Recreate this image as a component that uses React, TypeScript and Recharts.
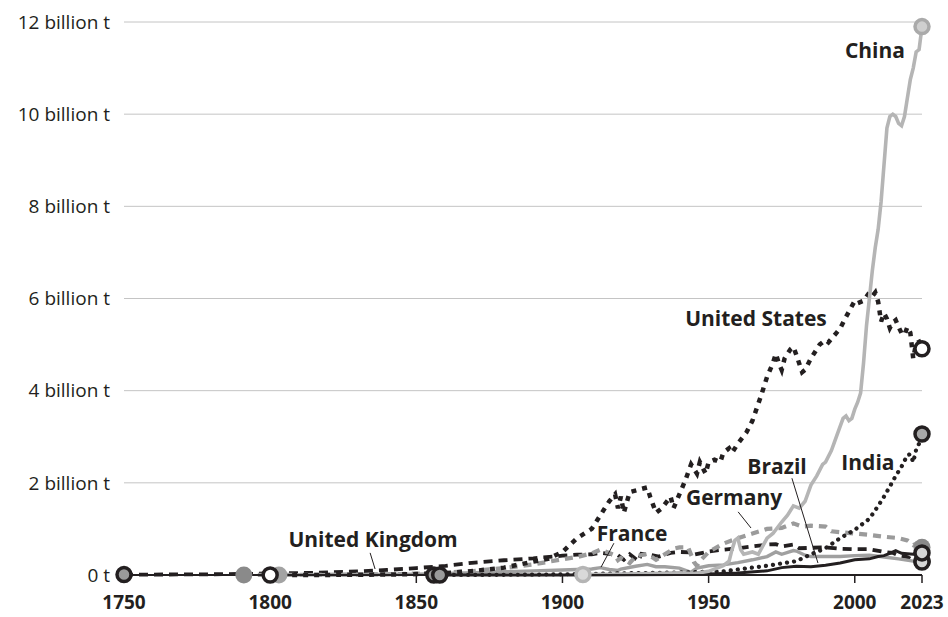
import { LineChart, Line, XAxis, YAxis, CartesianGrid, ReferenceDot, ReferenceLine } from 'recharts';

const INK = '#231f20';
const FONT = '"Open Sans", "Noto Sans", sans-serif';

type Pt = [number, number];

// annual CO2 emissions, billion tonnes
const ukPoints: Pt[] = [
  [1750, 0.009], [1760, 0.01], [1770, 0.012], [1780, 0.016], [1790, 0.022], [1800, 0.033], [1810, 0.042],
  [1820, 0.055], [1830, 0.08], [1840, 0.11], [1850, 0.15], [1860, 0.2], [1870, 0.27], [1880, 0.32],
  [1890, 0.36], [1900, 0.42], [1905, 0.44], [1910, 0.45], [1913, 0.48], [1916, 0.46], [1919, 0.43],
  [1921, 0.33], [1923, 0.45], [1926, 0.3], [1927, 0.46], [1930, 0.44], [1933, 0.4], [1937, 0.48],
  [1940, 0.5], [1944, 0.49], [1945, 0.44], [1950, 0.51], [1955, 0.55], [1960, 0.58], [1965, 0.62],
  [1970, 0.66], [1973, 0.67], [1975, 0.62], [1979, 0.66], [1981, 0.58], [1985, 0.59], [1990, 0.6],
  [1995, 0.57], [2000, 0.56], [2005, 0.56], [2010, 0.5], [2013, 0.48], [2015, 0.42], [2018, 0.39],
  [2020, 0.32], [2023, 0.3],
];

const usPoints: Pt[] = [
  [1800, 0.0002], [1820, 0.002], [1840, 0.01], [1850, 0.02], [1860, 0.04], [1870, 0.09], [1880, 0.16],
  [1890, 0.29], [1895, 0.35], [1900, 0.5], [1905, 0.8], [1910, 1.0], [1913, 1.3], [1916, 1.6],
  [1918, 1.75], [1919, 1.45], [1920, 1.7], [1921, 1.35], [1923, 1.8], [1926, 1.85], [1929, 1.9],
  [1930, 1.7], [1932, 1.35], [1934, 1.45], [1937, 1.7], [1938, 1.45], [1940, 1.75], [1942, 2.05],
  [1944, 2.4], [1945, 2.3], [1946, 2.2], [1947, 2.45], [1949, 2.2], [1950, 2.45], [1952, 2.5],
  [1954, 2.45], [1955, 2.65], [1957, 2.75], [1958, 2.65], [1960, 2.85], [1963, 3.1], [1965, 3.35],
  [1968, 3.9], [1970, 4.3], [1972, 4.6], [1973, 4.8], [1974, 4.6], [1975, 4.45], [1976, 4.7],
  [1977, 4.8], [1978, 4.9], [1979, 4.95], [1980, 4.78], [1982, 4.4], [1983, 4.45], [1985, 4.7],
  [1988, 5.0], [1990, 5.1], [1991, 5.05], [1993, 5.2], [1995, 5.35], [1997, 5.6], [2000, 5.95],
  [2001, 5.9], [2003, 5.95], [2005, 6.13], [2006, 6.05], [2007, 6.13], [2008, 5.93], [2009, 5.5],
  [2010, 5.68], [2011, 5.56], [2012, 5.36], [2013, 5.48], [2014, 5.53], [2015, 5.38], [2016, 5.25],
  [2017, 5.21], [2018, 5.38], [2019, 5.26], [2020, 4.7], [2021, 5.03], [2022, 5.06], [2023, 4.91],
];

const germanyPoints: Pt[] = [
  [1791, 0.001], [1800, 0.002], [1820, 0.005], [1840, 0.015], [1850, 0.03], [1860, 0.05], [1870, 0.09],
  [1880, 0.15], [1890, 0.23], [1900, 0.34], [1905, 0.39], [1910, 0.47], [1913, 0.55], [1916, 0.48],
  [1918, 0.42], [1919, 0.32], [1920, 0.37], [1923, 0.26], [1925, 0.4], [1929, 0.46], [1932, 0.33],
  [1935, 0.45], [1938, 0.57], [1940, 0.6], [1943, 0.6], [1945, 0.28], [1946, 0.2], [1947, 0.3],
  [1950, 0.5], [1955, 0.68], [1960, 0.8], [1965, 0.9], [1970, 1.0], [1975, 1.02], [1979, 1.12],
  [1982, 1.05], [1985, 1.07], [1990, 1.05], [1992, 0.95], [1995, 0.93], [2000, 0.9], [2005, 0.87],
  [2010, 0.83], [2015, 0.8], [2018, 0.75], [2020, 0.65], [2021, 0.68], [2022, 0.67], [2023, 0.6],
];

const francePoints: Pt[] = [
  [1803, 0.001], [1820, 0.004], [1840, 0.012], [1850, 0.02], [1860, 0.035], [1870, 0.05], [1880, 0.07],
  [1890, 0.09], [1900, 0.11], [1910, 0.13], [1913, 0.16], [1916, 0.12], [1919, 0.1], [1920, 0.13],
  [1925, 0.19], [1929, 0.23], [1932, 0.18], [1935, 0.18], [1940, 0.15], [1944, 0.06], [1946, 0.15],
  [1950, 0.2], [1955, 0.22], [1960, 0.27], [1965, 0.33], [1970, 0.4], [1973, 0.5], [1975, 0.45],
  [1979, 0.53], [1980, 0.52], [1983, 0.43], [1985, 0.4], [1990, 0.4], [1995, 0.4], [2000, 0.42],
  [2005, 0.43], [2010, 0.39], [2015, 0.35], [2020, 0.3], [2023, 0.28],
];

const indiaPoints: Pt[] = [
  [1858, 0.001], [1870, 0.002], [1880, 0.004], [1890, 0.008], [1900, 0.015], [1910, 0.025], [1920, 0.035],
  [1930, 0.045], [1940, 0.055], [1950, 0.07], [1955, 0.08], [1960, 0.12], [1965, 0.16], [1970, 0.2],
  [1975, 0.25], [1980, 0.3], [1985, 0.45], [1990, 0.58], [1995, 0.8], [2000, 0.98], [2005, 1.22],
  [2008, 1.5], [2010, 1.7], [2012, 1.92], [2014, 2.15], [2016, 2.35], [2018, 2.6], [2019, 2.62],
  [2020, 2.45], [2021, 2.72], [2022, 2.85], [2023, 3.06],
];

const brazilPoints: Pt[] = [
  [1856, 0.0003], [1880, 0.001], [1900, 0.002], [1920, 0.005], [1940, 0.01], [1950, 0.02], [1960, 0.045],
  [1970, 0.09], [1975, 0.16], [1980, 0.19], [1985, 0.18], [1990, 0.21], [1995, 0.26], [2000, 0.33],
  [2005, 0.35], [2008, 0.4], [2010, 0.42], [2012, 0.47], [2014, 0.53], [2016, 0.47], [2018, 0.46],
  [2020, 0.45], [2021, 0.49], [2022, 0.47], [2023, 0.48],
];

const chinaPoints: Pt[] = [
  [1907, 0.01], [1915, 0.015], [1920, 0.02], [1930, 0.03], [1940, 0.05], [1945, 0.03], [1950, 0.08],
  [1955, 0.2], [1957, 0.3], [1958, 0.55], [1959, 0.75], [1960, 0.8], [1961, 0.55], [1962, 0.45],
  [1965, 0.5], [1967, 0.45], [1970, 0.8], [1972, 0.9], [1975, 1.15], [1977, 1.3], [1979, 1.5],
  [1981, 1.45], [1983, 1.6], [1985, 1.95], [1987, 2.15], [1989, 2.4], [1990, 2.45], [1992, 2.7],
  [1994, 3.05], [1996, 3.4], [1997, 3.45], [1998, 3.35], [1999, 3.4], [2000, 3.6], [2001, 3.75],
  [2002, 3.95], [2003, 4.6], [2004, 5.4], [2005, 6.0], [2006, 6.6], [2007, 7.1], [2008, 7.5],
  [2009, 8.1], [2010, 8.9], [2011, 9.7], [2012, 9.95], [2013, 10.0], [2014, 9.95], [2015, 9.8],
  [2016, 9.75], [2017, 9.95], [2018, 10.35], [2019, 10.75], [2020, 11.0], [2021, 11.35], [2022, 11.4],
  [2023, 11.9],
];

const yearTicks = [1750, 1800, 1850, 1900, 1950, 2000, 2023];
const valueTicks = [0, 2, 4, 6, 8, 10, 12];

const toRows = (pts: Pt[]) => pts.map(([year, v]) => ({ year, v }));

type Ring = { fill: string; stroke?: string };

function endDots(start: Ring, end: Ring, count: number) {
  return (props: any) => {
    const { cx, cy, index } = props;
    const key = `dot-${index}`;
    const ring = index === 0 ? start : index === count - 1 ? end : null;
    if (!ring || cx == null || cy == null) return <g key={key} />;
    return (
      <circle
        key={key}
        cx={cx}
        cy={cy}
        r={ring.stroke ? 7 : 8.5}
        fill={ring.fill}
        stroke={ring.stroke ?? 'none'}
        strokeWidth={3.5}
      />
    );
  };
}

const series = [
  { name: 'United Kingdom', points: ukPoints, stroke: INK, width: 3.8, dash: '9 6', cap: 'butt',
    start: { fill: '#9a9a9a', stroke: INK }, end: { fill: '#d6d6d6', stroke: INK } },
  { name: 'Germany', points: germanyPoints, stroke: '#9b9b9b', width: 4.2, dash: '8 6', cap: 'butt',
    start: { fill: '#8a8a8a' }, end: { fill: '#8a8a8a' } },
  { name: 'France', points: francePoints, stroke: '#a0a0a0', width: 3.4, dash: undefined, cap: 'butt',
    start: { fill: '#a3a3a3' }, end: { fill: '#d6d6d6', stroke: INK } },
  { name: 'Brazil', points: brazilPoints, stroke: INK, width: 3, dash: undefined, cap: 'butt',
    start: { fill: '#9a9a9a', stroke: INK }, end: { fill: '#d6d6d6', stroke: INK } },
  { name: 'India', points: indiaPoints, stroke: INK, width: 4.2, dash: '0.1 7', cap: 'round',
    start: { fill: '#9a9a9a', stroke: INK }, end: { fill: '#a8a8a8', stroke: INK } },
  { name: 'United States', points: usPoints, stroke: INK, width: 4.5, dash: '5 6', cap: 'butt',
    start: { fill: '#ffffff', stroke: INK }, end: { fill: '#ffffff', stroke: INK } },
  { name: 'China', points: chinaPoints, stroke: '#b5b5b5', width: 3.6, dash: undefined, cap: 'butt',
    start: { fill: '#d9d9d9', stroke: '#b5b5b5' }, end: { fill: '#cfcfcf', stroke: '#aaaaaa' } },
];

// label anchors (year, billion t)
const labels = [
  { text: 'China', year: 2006.9, value: 11.39 },
  { text: 'United States', year: 1966.2, value: 5.57 },
  { text: 'India', year: 2004.5, value: 2.43 },
  { text: 'Brazil', year: 1973.4, value: 2.36 },
  { text: 'Germany', year: 1958.7, value: 1.69 },
  { text: 'France', year: 1923.8, value: 0.91 },
  { text: 'United Kingdom', year: 1835.2, value: 0.76 },
];

const leaders = [
  { from: { x: 1978.5, y: 2.1 }, to: { x: 1987.4, y: 0.26 } },
  { from: { x: 1960.1, y: 1.37 }, to: { x: 1964.5, y: 1.02 } },
  { from: { x: 1917.6, y: 0.69 }, to: { x: 1913.2, y: 0.17 } },
  { from: { x: 1834.2, y: 0.48 }, to: { x: 1835.9, y: 0.13 } },
];

const formatValue = (v: number) => (v === 0 ? '0 t' : `${v} billion t`);

export default function App() {
  return (
    <div style={{ position: 'absolute', left: 0, top: 0, background: '#fff' }}>
      <LineChart width={948} height={617} margin={{ top: 22, right: 26, bottom: 0, left: 0 }}>
        <CartesianGrid vertical={false} stroke="#c4c4c4" strokeWidth={1} />
        <XAxis
          dataKey="year"
          type="number"
          domain={[1750, 2023]}
          ticks={yearTicks}
          interval={0}
          height={42}
          axisLine={{ stroke: INK, strokeWidth: 2 }}
          tickLine={{ stroke: INK, strokeWidth: 1.5 }}
          tickSize={8}
          tickMargin={13}
          tick={{ fill: INK, fontSize: 19, fontWeight: 700, fontFamily: FONT }}
          allowDuplicatedCategory={false}
        />
        <YAxis
          type="number"
          domain={[0, 12]}
          ticks={valueTicks}
          width={124}
          axisLine={false}
          tickLine={false}
          tickSize={0}
          tickMargin={14}
          tickFormatter={formatValue}
          tick={{ fill: INK, fontSize: 19, fontFamily: FONT }}
        />
        {series.map((s) => (
          <Line
            key={s.name}
            name={s.name}
            data={toRows(s.points)}
            dataKey="v"
            type="linear"
            stroke={s.stroke}
            strokeWidth={s.width}
            strokeDasharray={s.dash}
            strokeLinecap={s.cap as any}
            dot={endDots(s.start, s.end, s.points.length)}
            activeDot={false}
            isAnimationActive={false}
          />
        ))}
        {leaders.map((l, i) => (
          <ReferenceLine key={`lead-${i}`} segment={[l.from, l.to]} stroke={INK} strokeWidth={1} />
        ))}
        {labels.map((l) => (
          <ReferenceDot
            key={l.text}
            x={l.year}
            y={l.value}
            r={0}
            fill="none"
            stroke="none"
            label={{
              value: l.text,
              position: 'center',
              fill: INK,
              fontSize: 21,
              fontWeight: 700,
              fontFamily: FONT,
            }}
          />
        ))}
      </LineChart>
    </div>
  );
}
